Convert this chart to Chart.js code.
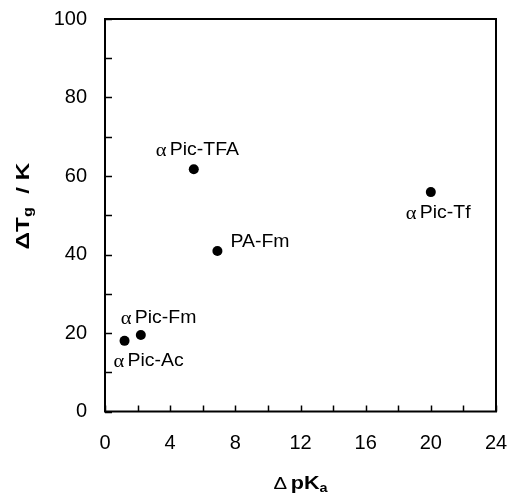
<!DOCTYPE html>
<html>
<head>
<meta charset="utf-8">
<script src="https://cdn.jsdelivr.net/npm/chart.js@4"></script>
<style>
html,body{margin:0;padding:0;background:#fff;overflow:hidden;}
#wrap{width:509px;height:493px;position:relative;}
</style>
</head>
<body>
<div id="wrap"><canvas id="c"></canvas></div>
<script>
// ---- data ----
const compounds = ['αPic-Ac', 'αPic-Fm', 'αPic-TFA', 'PA-Fm', 'αPic-Tf'];
const deltaPKa = [1.2, 2.2, 5.45, 6.9, 20.0];
const deltaTg = [18.0, 19.5, 61.7, 40.9, 55.9];
const xTickLabels = [0, 4, 8, 12, 16, 20, 24];
const yTickLabels = [0, 20, 40, 60, 80, 100];

// ---- label placement (style, pixel offsets of text left/center from point) ----
const labelOffsets = [
  {dx: -11, dy: 20},
  {dx: -20, dy: -17},
  {dx: -38, dy: -19},
  {dx: 13, dy: -9},
  {dx: -25, dy: 21}
];

const SANS = '"Liberation Sans", Arial, sans-serif';
const SERIF = '"Liberation Serif", "Times New Roman", serif';

function drawPointLabel(ctx, text, x, y) {
  ctx.save();
  ctx.translate(x, y);
  ctx.scale(1.08, 1);
  ctx.fillStyle = '#000';
  ctx.textBaseline = 'middle';
  ctx.textAlign = 'left';
  let cx = 0;
  let rest = text;
  if (text.startsWith('α')) {
    ctx.font = '19px ' + SERIF;
    ctx.fillText('α', cx, 1);
    cx += ctx.measureText('α').width + 3;
    rest = text.slice(1);
  }
  ctx.font = '18px ' + SANS;
  ctx.fillText(rest, cx, 0);
  ctx.restore();
}

const decor = {
  id: 'decor',
  afterDraw(chart) {
    const ctx = chart.ctx;
    const a = chart.chartArea;
    const xs = chart.scales.x, ys = chart.scales.y;
    ctx.save();
    ctx.strokeStyle = '#000';
    ctx.lineWidth = 1.5;
    xs.ticks.forEach(t => {
      const px = Math.round(xs.getPixelForValue(t.value)) + 0.5;
      ctx.beginPath();
      ctx.moveTo(px, a.bottom);
      ctx.lineTo(px, a.bottom - 6);
      ctx.stroke();
    });
    ys.ticks.forEach(t => {
      const py = Math.round(ys.getPixelForValue(t.value)) + 0.5;
      ctx.beginPath();
      ctx.moveTo(a.left, py);
      ctx.lineTo(a.left + 7, py);
      ctx.stroke();
    });
    ctx.lineWidth = 2;
    ctx.strokeRect(a.left, a.top, a.right - a.left, a.bottom - a.top);

    const meta = chart.getDatasetMeta(0);
    meta.data.forEach((el, i) => {
      const o = labelOffsets[i];
      drawPointLabel(ctx, compounds[i], el.x + o.dx, el.y + o.dy);
    });

    // x axis title: Δ pK_a
    ctx.save();
    ctx.fillStyle = '#000';
    ctx.textBaseline = 'alphabetic';
    ctx.textAlign = 'left';
    const sx = 1.2;
    const fD = '17px ' + SANS, fB = 'bold 18px ' + SANS, fS = 'bold 12px ' + SANS;
    ctx.font = fD; const wD = ctx.measureText('Δ').width;
    ctx.font = fB; const wP = ctx.measureText('pK').width;
    ctx.font = fS; const wA = ctx.measureText('a').width;
    const gap = 3;
    const total = (wD + gap + wP + wA) * sx;
    ctx.translate((a.left + a.right) / 2 - total / 2, 489);
    ctx.scale(sx, 1);
    let cx = 0;
    ctx.font = fD; ctx.fillText('Δ', cx, 0); cx += wD + gap;
    ctx.font = fB; ctx.fillText('pK', cx, 0); cx += wP;
    ctx.font = fS; ctx.fillText('a', cx, 3);
    ctx.restore();

    // y axis title: ΔT_g / K
    ctx.save();
    ctx.fillStyle = '#000';
    ctx.textBaseline = 'alphabetic';
    ctx.textAlign = 'left';
    ctx.translate(22, 206);
    ctx.rotate(-Math.PI / 2);
    ctx.scale(1.35, 1);
    const fT = 'bold 18px ' + SANS, fG = 'bold 12px ' + SANS;
    ctx.font = fT; const w1 = ctx.measureText('ΔT').width;
    ctx.font = fG; const w2 = ctx.measureText('g').width;
    ctx.font = fT; const w3 = ctx.measureText('  / K').width;
    const tot = w1 + w2 + w3;
    let u = -tot / 2;
    const v = 7;
    ctx.font = fT; ctx.fillText('ΔT', u, v); u += w1;
    ctx.font = fG; ctx.fillText('g', u, v + 3); u += w2;
    ctx.font = fT; ctx.fillText('  / K', u, v);
    ctx.restore();
    ctx.restore();
  }
};

function zeroPad(s) {
  s.paddingTop = 0; s.paddingBottom = 0; s.paddingLeft = 0; s.paddingRight = 0;
}

new Chart(document.getElementById('c'), {
  type: 'scatter',
  data: {
    datasets: [{
      data: deltaPKa.map((x, i) => ({x: x, y: deltaTg[i]})),
      backgroundColor: '#000',
      borderColor: '#000',
      borderWidth: 0,
      pointRadius: 5,
      pointHoverRadius: 5
    }]
  },
  options: {
    responsive: true,
    maintainAspectRatio: false,
    animation: false,
    events: [],
    layout: {padding: {top: 19, right: 13, left: 0, bottom: 0}},
    plugins: {legend: {display: false}, tooltip: {enabled: false}},
    scales: {
      x: {
        type: 'linear',
        min: 0, max: 24,
        grid: {display: false, drawTicks: false},
        border: {display: false},
        ticks: {
          stepSize: 2,
          autoSkip: false,
          maxRotation: 0,
          padding: 20,
          color: '#000',
          font: {family: SANS, size: 20},
          callback: v => xTickLabels.includes(v) ? String(v) : ''
        },
        afterFit: s => { s.height = 81.5; zeroPad(s); }
      },
      y: {
        type: 'linear',
        min: 0, max: 100,
        grid: {display: false, drawTicks: false},
        border: {display: false},
        ticks: {
          stepSize: 10,
          autoSkip: false,
          padding: 18,
          color: '#000',
          font: {family: SANS, size: 20},
          callback: v => yTickLabels.includes(v) ? String(v) : ''
        },
        afterFit: s => { s.width = 105; zeroPad(s); }
      }
    }
  },
  plugins: [decor]
});
</script>
</body>
</html>
